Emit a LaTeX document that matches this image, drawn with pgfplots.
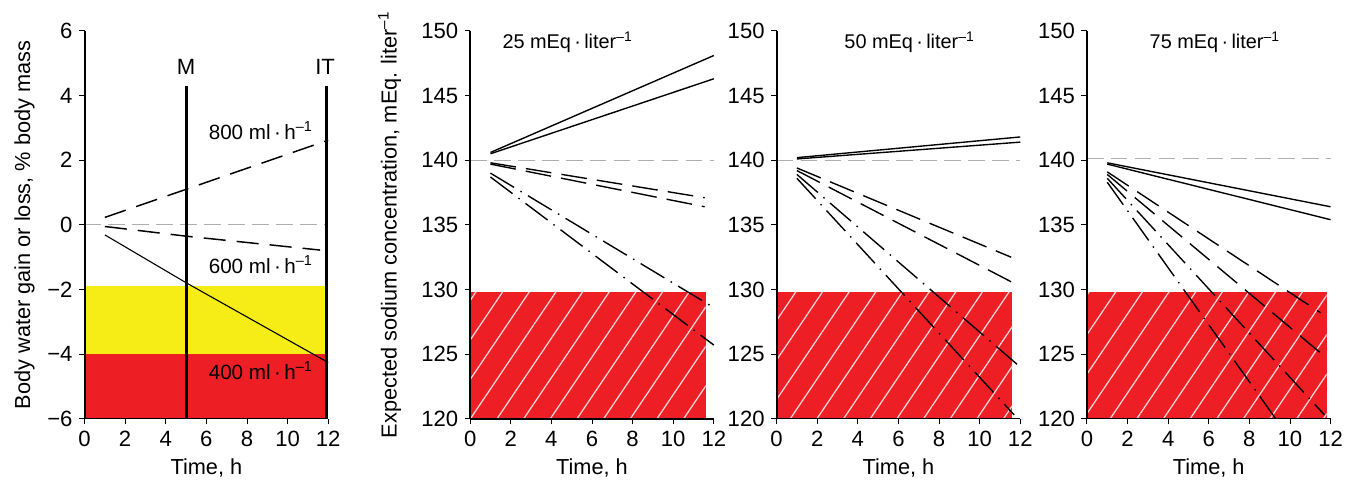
\documentclass[border=0pt]{standalone}
\usepackage{fontspec}
\setmainfont{Liberation Sans}
\usepackage{pgfplots}
\pgfplotsset{compat=1.18}
\usetikzlibrary{patterns.meta}
\definecolor{zonered}{RGB}{237,30,36}
\definecolor{zoneyellow}{RGB}{246,236,22}
\definecolor{refgray}{RGB}{175,175,175}

\newcommand{\annfont}{\fontsize{11.2}{13}\selectfont}
\newcommand{\ttlfont}{\fontsize{10.8}{13}\selectfont}

\pgfplotsset{
  panel/.style={
    scale only axis, width=132.3pt, height=210.6pt,
    anchor=south west,
    axis lines*=left,
    xmin=0, xmax=12, xtick={0,2,...,12},
    tick align=outside, major tick length=3pt,
    tick style={black, line width=0.5pt},
    x axis line style={line width=0.5pt, -},
    y axis line style={line width=1.1pt, -},
    tick label style={font=\fontsize{12}{14}\selectfont},
    label style={font=\fontsize{11.8}{14}\selectfont},
    /pgf/number format/assume math mode=true,
    xlabel={Time, h},
    clip=false, axis on top,
  },
  sodium/.style={panel, ymin=120, ymax=150, ytick={120,125,...,150}},
  refline/.style={refgray, line width=0.6pt, dash pattern=on 9pt off 4pt},
  dsh/.style={black, line width=0.75pt, dash pattern=on 14pt off 5.5pt},
  dshdot/.style={black, line width=0.75pt, dash pattern=on 15pt off 4pt on 0.8pt off 4pt},
  sld/.style={black, line width=0.75pt},
  hatched/.style={draw=none, fill=zonered,
    postaction={pattern={Lines[angle=56, distance=12pt, line width=0.7pt]},
                pattern color=white!80!zonered}},
}

\begin{document}
\begin{tikzpicture}
\path (0,0) rectangle (728.5pt,260.3pt);

% ---- body water panel
\begin{axis}[panel, at={(45.9pt,32.9pt)},
    ymin=-6, ymax=6, ytick={-6,-4,...,6},
    yticklabels={−6,−4,−2,0,2,4,6},
    ylabel={Body water gain or loss, \% body mass}]
\addplot[draw=none, fill=zoneyellow] coordinates {(0,-1.9) (11.9,-1.9) (11.9,-4) (0,-4)} -- cycle;
\addplot[draw=none, fill=zonered] coordinates {(0,-4) (11.9,-4) (11.9,-6) (0,-6)} -- cycle;
\addplot[refline] coordinates {(0,0) (12,0)};
\addplot[black, line width=0.8pt, dash pattern=on 12pt off 6pt] coordinates {(1,0.23) (12,2.62)};
\addplot[black, line width=0.8pt, dash pattern=on 12pt off 6pt] coordinates {(1,-0.05) (5,-0.35) (11.6,-0.78)};
\addplot[black, line width=0.6pt] coordinates {(1,-0.31) (5,-1.79) (12,-4.26)};
\addplot[black, line width=1.6pt] coordinates {(5,-6) (5,4.3)};
\addplot[black, line width=1.6pt] coordinates {(11.9,-6) (11.9,4.3)};
\node[font=\fontsize{12}{14}\selectfont] at (axis cs:5,4.9) {M};
\node[font=\fontsize{12}{14}\selectfont] at (axis cs:11.85,4.9) {IT};
\node[anchor=west, font=\annfont] at (axis cs:5.8,2.92) {800 ml\,·\,h\textsuperscript{–1}};
\node[anchor=west, font=\annfont] at (axis cs:5.8,-1.23) {600 ml\,·\,h\textsuperscript{–1}};
\node[anchor=west, font=\annfont] at (axis cs:5.8,-4.51) {400 ml\,·\,h\textsuperscript{–1}};
\end{axis}

% ---- 25 mEq/l
\begin{axis}[sodium, at={(255.3pt,32.9pt)},
    ylabel={Expected sodium concentration, mEq. liter\textsuperscript{–1}},
    ylabel style={xshift=0pt, yshift=4pt}]
\addplot[hatched] coordinates {(0,120) (11.6,120) (11.6,129.8) (0,129.8)} -- cycle;
\addplot[black, line width=1.4pt] coordinates {(0,120) (12,120)};
\addplot[refline] coordinates {(0,140) (12,140)};
\addplot[sld] coordinates {(1,140.6) (12,148.1)};
\addplot[sld] coordinates {(1,140.5) (12,146.3)};
\addplot[dsh] coordinates {(1,139.8) (11.55,137.1)};
\addplot[dsh] coordinates {(1,139.7) (11.55,136.4)};
\addplot[dshdot] coordinates {(1,139.0) (12,128.6)};
\addplot[dshdot] coordinates {(1,138.7) (12,125.7)};
\node[font=\ttlfont] at (axis cs:4.8,149.1) {25 mEq\,·\,liter\textsuperscript{–1}};
\end{axis}

% ---- 50 mEq/l
\begin{axis}[sodium, at={(421.7pt,32.9pt)}]
\addplot[hatched] coordinates {(0,120) (11.6,120) (11.6,129.8) (0,129.8)} -- cycle;
\addplot[refline] coordinates {(0,140) (12,140)};
\addplot[sld] coordinates {(1,140.2) (12,141.8)};
\addplot[sld] coordinates {(1,140.1) (12,141.4)};
\addplot[dsh] coordinates {(1,139.4) (11.55,132.5)};
\addplot[dsh] coordinates {(1,139.2) (11.55,130.6)};
\addplot[dshdot] coordinates {(1,138.9) (12,124.0)};
\addplot[dshdot] coordinates {(1,138.6) (11.7,120.3)};
\node[font=\ttlfont] at (axis cs:6.55,149.1) {50 mEq\,·\,liter\textsuperscript{–1}};
\end{axis}

% ---- 75 mEq/l
\begin{axis}[sodium, at={(590.2pt,32.9pt)}]
\addplot[hatched] coordinates {(0,120) (11.8,120) (11.8,129.8) (0,129.8)} -- cycle;
\addplot[refline] coordinates {(0,140.1) (12,140.1)};
\addplot[sld] coordinates {(1,139.8) (12,136.4)};
\addplot[sld] coordinates {(1,139.7) (12,135.4)};
\addplot[dsh] coordinates {(1,139.1) (11.5,128.2)};
\addplot[dsh] coordinates {(1,138.9) (11.5,125.1)};
\addplot[dshdot] coordinates {(1,138.6) (11.7,120.3)};
\addplot[dshdot] coordinates {(1,138.3) (9.3,120.0)};
\node[font=\ttlfont] at (axis cs:6.3,149.1) {75 mEq\,·\,liter\textsuperscript{–1}};
\end{axis}
\end{tikzpicture}
\end{document}
